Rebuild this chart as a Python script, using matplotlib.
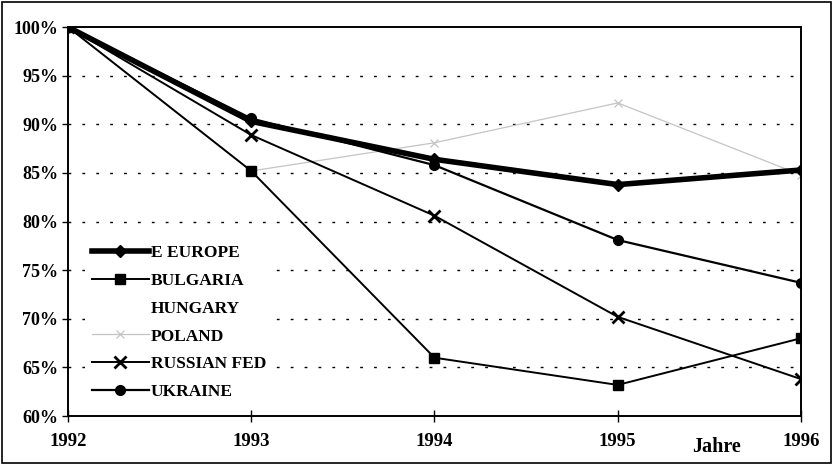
import matplotlib
matplotlib.use('Agg')
import matplotlib.pyplot as plt
from matplotlib.lines import Line2D
from matplotlib.patches import Rectangle

years = [1992, 1993, 1994, 1995, 1996]
e_europe = [100, 90.3, 86.4, 83.8, 85.3]
bulgaria = [100, 85.2, 66.0, 63.2, 68.0]
poland = [100, 85.2, 88.1, 92.2, 84.8]
russian_fed = [100, 88.9, 80.6, 70.2, 63.8]
ukraine = [100, 90.6, 85.8, 78.1, 73.7]
y_ticks = [60, 65, 70, 75, 80, 85, 90, 95, 100]

plt.rcParams['font.family'] = ['Liberation Serif', 'DejaVu Serif']

fig = plt.figure(figsize=(8.34, 4.68), dpi=100)
ax = fig.add_axes([0.0815, 0.111, 0.8789, 0.8312])

poland_color = '#c4c4c4'
ax.plot(years, poland, color=poland_color, lw=0.9, marker='x', ms=6, mew=0.9, label='POLAND', zorder=2)
ax.plot(years, bulgaria, color='black', lw=1.4, marker='s', ms=7, label='BULGARIA', zorder=3)
ax.plot(years, russian_fed, color='black', lw=1.4, marker='x', ms=8, mew=2, label='RUSSIAN FED', zorder=3)
ax.plot(years, ukraine, color='black', lw=1.6, marker='o', ms=7, label='UKRAINE', zorder=3)
ax.plot(years, e_europe, color='black', lw=4, marker='D', ms=6, label='E EUROPE', zorder=4)

ax.set_xlim(1992, 1996)
ax.set_ylim(60, 100)
ax.set_xticks(years)
ax.set_xticklabels([str(y) for y in years], fontsize=13.5, fontweight='bold')
ax.set_yticks(y_ticks)
ax.set_yticklabels([f'{v}%' for v in y_ticks], fontsize=13, fontweight='bold')
ax.tick_params(axis='x', direction='inout', length=8, width=1, pad=8)
ax.tick_params(axis='y', direction='out', length=4, width=1, pad=3)
for v in y_ticks[1:-1]:
    ax.axhline(v, color='black', lw=1, ls=(0, (2, 8)), zorder=1)
for s in ax.spines.values():
    s.set_linewidth(1.4)

ax.text(1995.54, 57.8, 'Jahre', fontsize=14.5, fontweight='bold', ha='center', va='top')

handles = [
    Line2D([], [], color='black', lw=4, marker='D', ms=6),
    Line2D([], [], color='black', lw=1.4, marker='s', ms=7),
    Line2D([], [], color='none'),
    Line2D([], [], color=poland_color, lw=0.9, marker='x', ms=6, mew=0.9),
    Line2D([], [], color='black', lw=1.4, marker='x', ms=8, mew=2),
    Line2D([], [], color='black', lw=1.6, marker='o', ms=7),
]
labels = ['E EUROPE', 'BULGARIA', 'HUNGARY', 'POLAND', 'RUSSIAN FED', 'UKRAINE']
leg = ax.legend(handles, labels, loc='lower left', bbox_to_anchor=(0.011, 0.0), frameon=True,
                facecolor='white', edgecolor='none', framealpha=1,
                prop={'size': 12.5, 'weight': 'bold'}, handlelength=3.3, handletextpad=0.1,
                labelspacing=0.68, borderaxespad=0.5)
leg.set_zorder(5)

fig.patches.append(Rectangle((0.002, 0.01), 0.995, 0.985, transform=fig.transFigure,
                             fill=False, lw=1.2, color='black'))

fig.savefig('out.png')
